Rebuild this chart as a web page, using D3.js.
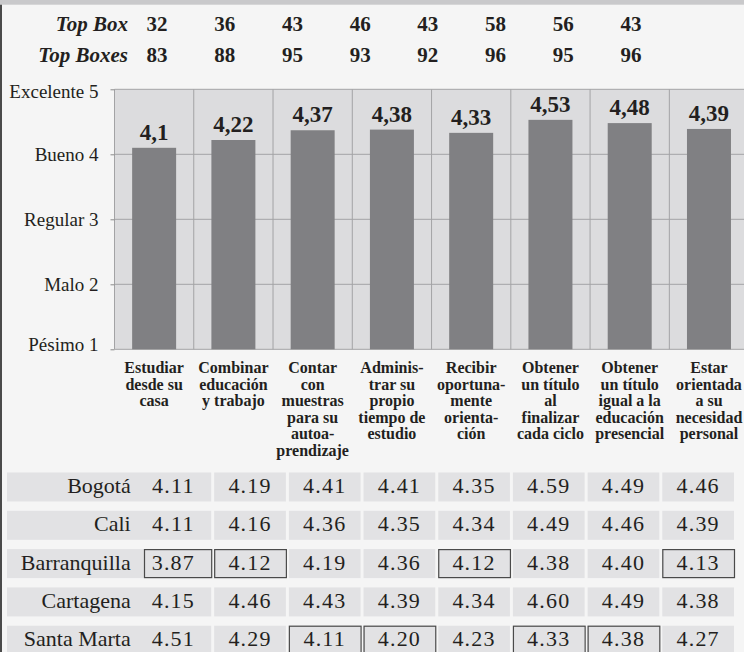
<!DOCTYPE html>
<html><head><meta charset="utf-8">
<script src="https://cdn.jsdelivr.net/npm/d3@7"></script>
<style>body{margin:0;background:#f5f5f5}svg{display:block}
svg text{font-family:"Liberation Serif","Tinos","DejaVu Serif","Noto Serif","Times New Roman",serif !important;}</style>
</head><body><svg id="c" width="744" height="652"></svg>
<script>
// ---------- data ----------
const categories = ["casa","trabajo","autoaprendizaje","tiempo","orientacion","titulo","igual","necesidad"];
const categoryLines = [
  ["Estudiar","desde su","casa"],
  ["Combinar","educación","y trabajo"],
  ["Contar","con","muestras","para su","autoa-","prendizaje"],
  ["Adminis-","trar su","propio","tiempo de","estudio"],
  ["Recibir","oportuna-","mente","orienta-","ción"],
  ["Obtener","un título","al","finalizar","cada ciclo"],
  ["Obtener","un título","igual a la","educación","presencial"],
  ["Estar","orientada","a su","necesidad","personal"]
];
const means = [4.1, 4.22, 4.37, 4.38, 4.33, 4.53, 4.48, 4.39];
const topBox = [32, 36, 43, 46, 43, 58, 56, 43];
const topBoxes = [83, 88, 95, 93, 92, 96, 95, 96];
const headerLabels = ["Top Box", "Top Boxes"];
const yTickValues = [1, 2, 3, 4, 5];
const yTickLabels = ["Pésimo 1", "Malo 2", "Regular 3", "Bueno 4", "Excelente 5"];
const cities = ["Bogotá", "Cali", "Barranquilla", "Cartagena", "Santa Marta"];
const bogota = [4.11, 4.19, 4.41, 4.41, 4.35, 4.59, 4.49, 4.46];
const cali = [4.11, 4.16, 4.36, 4.35, 4.34, 4.49, 4.46, 4.39];
const barranquilla = [3.87, 4.12, 4.19, 4.36, 4.12, 4.38, 4.40, 4.13];
const cartagena = [4.15, 4.46, 4.43, 4.39, 4.34, 4.60, 4.49, 4.38];
const santaMarta = [4.51, 4.29, 4.11, 4.20, 4.23, 4.33, 4.38, 4.27];
const cityValues = [bogota, cali, barranquilla, cartagena, santaMarta];

// ---------- style ----------
const FONT = "Liberation Serif, Tinos, DejaVu Serif, Noto Serif, serif";
const INK = "#231f20";
const svg = d3.select("#c").attr("font-family", FONT);
svg.append("rect").attr("width",744).attr("height",652).attr("fill","#f5f5f5");
svg.append("rect").attr("width",744).attr("height",4.7).attr("fill","#c9c9cb");
svg.append("rect").attr("x",0).attr("y",4.7).attr("width",2).attr("height",652).attr("fill","#4a4a4a");

// ---------- scales ----------
const x = d3.scaleBand().domain(categories).range([114.5, 748.6]).paddingInner(0.445).paddingOuter(0.2225);
const grid = d3.scaleBand().domain(categories).range([114.5, 748.6]).padding(0);
const y = d3.scaleLinear().domain([1, 5]).range([349.3, 89.3]);
const hx = d3.scalePoint().domain(categories).range([157, 631]);

// ---------- header ----------
const header = svg.append("g").attr("fill", INK);
[topBox, topBoxes].forEach((arr, r) => {
  const by = [31, 62][r];
  header.append("text").attr("x",128).attr("y",by).attr("text-anchor","end")
    .attr("font-size",21).attr("font-weight","bold").attr("font-style","italic").text(headerLabels[r]);
  header.selectAll(null).data(arr).join("text")
    .attr("x",(d,i)=>hx(categories[i])).attr("y",by).attr("text-anchor","middle")
    .attr("font-size",21).attr("font-weight","bold").text(d=>d);
});

// ---------- plot ----------
const plot = svg.append("g");
plot.append("rect").attr("x",114.5).attr("y",y(5)).attr("width",748.6-114.5).attr("height",y(1)-y(5)).attr("fill","#dcdcde");
plot.selectAll(".hg").data(yTickValues).join("line")
  .attr("x1",114.5).attr("x2",748.6).attr("y1",d=>y(d)).attr("y2",d=>y(d))
  .attr("stroke","#a3a3a5").attr("stroke-width",1);
plot.selectAll(".vg").data(categories).join("line")
  .attr("x1",d=>grid(d)).attr("x2",d=>grid(d)).attr("y1",y(5)).attr("y2",y(1))
  .attr("stroke","#a3a3a5").attr("stroke-width",1);

plot.selectAll(".bar").data(means).join("rect")
  .attr("x",(d,i)=>x(categories[i])).attr("width",x.bandwidth())
  .attr("y",d=>y(d)).attr("height",d=>y(1)-y(d)).attr("fill","#808083");

plot.selectAll(".val").data(means).join("text")
  .attr("x",(d,i)=>x(categories[i])+x.bandwidth()/2).attr("y",d=>y(d)-8)
  .attr("text-anchor","middle").attr("font-size",23).attr("font-weight","bold").attr("fill",INK)
  .text(d=>String(d).replace(".", ","));

// y axis
const yAxis = d3.axisLeft(y).tickValues(yTickValues).tickFormat((d,i)=>yTickLabels[i]).tickSize(4).tickPadding(12);
const ya = svg.append("g").attr("transform","translate(114.5,0)").call(yAxis).attr("font-family",FONT);
ya.select(".domain").remove();
ya.selectAll(".tick line").attr("stroke","#8a8a8a");
ya.selectAll(".tick text").attr("font-size",19).attr("fill",INK)
  .attr("dy", d => d===1 ? "0.05em" : d===5 ? "0.42em" : "0.32em");

// category labels
const cl = svg.append("g").attr("fill",INK).attr("font-size",16).attr("font-weight","bold").attr("text-anchor","middle");
categories.forEach((c,i)=>{
  const t = cl.append("text").attr("x", grid(c)+grid.bandwidth()/2);
  categoryLines[i].forEach((line,k)=>{
    t.append("tspan").attr("x", grid(c)+grid.bandwidth()/2).attr("y", 373 + k*16.6).text(line);
  });
});

// ---------- table ----------
const col = d3.scaleBand().domain(categories).range([139.5, 734]).paddingInner(0.04).paddingOuter(0);
const row = d3.scaleBand().domain(cities).range([472.5, 654.7]).paddingInner(0.243).paddingOuter(0);
const colMin = categories.map((c,j)=>d3.min(cityValues, r=>r[j]));
const tbl = svg.append("g");
cities.forEach((city, r) => {
  const ry = row(city), rh = row.bandwidth();
  tbl.append("rect").attr("x",7).attr("y",ry).attr("width",col(categories[0])+col.bandwidth()-7).attr("height",rh).attr("fill","#e2e2e4");
  tbl.append("text").attr("x",130.7).attr("y",ry+20.5).attr("text-anchor","end").attr("font-size",22).attr("fill",INK).text(city);
  cityValues[r].forEach((v,j)=>{
    const cx = col(categories[j]);
    if (j>0) tbl.append("rect").attr("x",cx).attr("y",ry).attr("width",col.bandwidth()).attr("height",rh).attr("fill","#e2e2e4");
    if (v === colMin[j]) {
      const inset = j===0 ? 4.5 : 0;
      tbl.append("rect").attr("x",cx+inset+0.5).attr("y",ry+0.5).attr("width",col.bandwidth()-inset).attr("height",rh-1)
        .attr("fill","none").attr("stroke","#4a4a4a").attr("stroke-width",1.2);
    }
    tbl.append("text").attr("x",cx+col.bandwidth()/2 + (j===0?-2:0)).attr("y",ry+20.5).attr("text-anchor","middle")
      .attr("font-size",22).attr("letter-spacing","1.2px").attr("fill",INK).text(d3.format(".2f")(v));
  });
});
</script></body></html>
